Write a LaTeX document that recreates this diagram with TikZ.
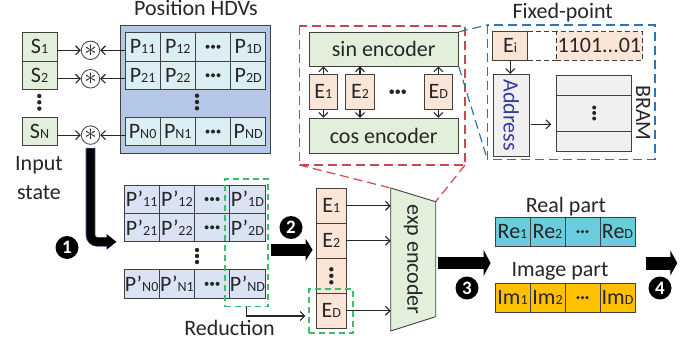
\documentclass[tikz,border=0pt]{standalone}
\usepackage{fontspec}
\setmainfont{Carlito}
\usetikzlibrary{arrows.meta,calc}
\definecolor{txt}{HTML}{262626}
\definecolor{bline}{HTML}{404040}
\definecolor{sgreen}{HTML}{E2EFDA}
\definecolor{hdvout}{HTML}{B4C7E7}
\definecolor{hdvcell}{HTML}{DAEEF3}
\definecolor{pprime}{HTML}{DAE3F3}
\definecolor{peach}{HTML}{FBE5D6}
\definecolor{recyan}{HTML}{6BCCDD}
\definecolor{imgold}{HTML}{FFC000}
\definecolor{rdash}{HTML}{D0444E}
\definecolor{bdash}{HTML}{2E75B6}
\definecolor{gdash}{HTML}{3CBF6A}
\definecolor{addrc}{HTML}{3A3A9A}
\definecolor{bramfill}{HTML}{F0F0F0}
\definecolor{arrblue}{HTML}{2F4A78}
\newcommand\sbx[1]{{\fontsize{14}{14}\selectfont #1}}
\newcommand\hdts[3]{\foreach \k in {-1,0,1}{\fill[txt] ([xshift=\k*#2]#1) circle[radius=#3];}}
\newcommand\vdts[3]{\foreach \k in {-1,0,1}{\fill[txt] ([yshift=\k*#2]#1) circle[radius=#3];}}
\begin{document}
\begin{tikzpicture}[x=1pt,y=-1pt,
  font=\fontsize{22}{24}\selectfont, text=txt,
  box/.style={draw=bline,line width=0.9pt,inner sep=0pt,text=txt},
  pcell/.style={box,fill=hdvcell,minimum width=35.2pt,minimum height=28.5pt},
  ppcell/.style={box,fill=pprime,minimum width=35.25pt,minimum height=28.2pt},
  scell/.style={box,fill=sgreen,minimum width=35pt,minimum height=28.5pt},
  ecell/.style={box,fill=peach,minimum width=29.3pt,minimum height=35pt},
  etop/.style={box,fill=peach,minimum width=28.7pt,minimum height=35pt},
  enc/.style={box,fill=sgreen,minimum width=149.3pt},
  recell/.style={box,fill=recyan,minimum width=35pt,minimum height=28.7pt},
  imcell/.style={box,fill=imgold,minimum width=35pt,minimum height=28.7pt},
  mult/.style={circle,draw=bline,line width=0.8pt,fill=white,minimum size=18.5pt,inner sep=0pt},
  num/.style={circle,fill=black,text=white,minimum size=23pt,inner sep=0pt,font=\fontsize{19}{19}\selectfont\bfseries},
  arr/.style={draw=txt,line width=1.1pt,-{Straight Barb[length=4.5pt,width=9pt,line width=1.1pt]}},
  big/.style={draw=black,line width=12pt,-{Triangle[length=8pt,width=24pt]}},
  rd/.style={draw=rdash,line width=1.2pt,dash pattern=on 9pt off 5pt},
  bd/.style={draw=bdash,line width=1.2pt,dash pattern=on 9pt off 5pt},
  gd/.style={draw=gdash,line width=1.3pt,dash pattern=on 6pt off 4pt},
  lbl/.style={anchor=base,inner sep=0pt}
]
\useasboundingbox (0,0) rectangle (699,348);

% ---------- input state ----------
\node[scell] (s1) at (39.5,46.75) {S\sbx{1}};
\node[scell] (s2) at (39.5,75.25) {S\sbx{2}};
\node[scell] (sn) at (39.5,131.55) {S\sbx{N}};
\coordinate (sdots) at (39.3,102.3);
\vdts{sdots}{6.3pt}{2.2pt}
\node[lbl] (inp) at (39,170.7) {Input};
\node[lbl] (sta) at (39,199.3) {state};

% ---------- position HDVs ----------
\node[lbl] (poshdv) at (196,15.7) {Position HDVs};
\node[draw=bline,line width=1pt,fill=hdvout,minimum width=150.5pt,minimum height=128.3pt,inner sep=0pt] (hdv) at (195.25,89.15) {};
\node[pcell] (p11) at (142.6,46.75) {P\sbx{11}};
\node[pcell] (p12) at (177.8,46.75) {P\sbx{12}};
\node[pcell] (p13) at (213,46.75) {};
\node[pcell] (p14) at (248.2,46.75) {P\sbx{1D}};
\node[pcell] (p21) at (142.6,75.25) {P\sbx{21}};
\node[pcell] (p22) at (177.8,75.25) {P\sbx{22}};
\node[pcell] (p23) at (213,75.25) {};
\node[pcell] (p24) at (248.2,75.25) {P\sbx{2D}};
\node[pcell] (pn1) at (142.6,131.55) {P\sbx{N0}};
\node[pcell] (pn2) at (177.8,131.55) {P\sbx{N1}};
\node[pcell] (pn3) at (213,131.55) {};
\node[pcell] (pn4) at (248.2,131.55) {P\sbx{ND}};
\hdts{p13}{5.5pt}{2pt}
\hdts{p23}{5.5pt}{2pt}
\hdts{pn3}{5.5pt}{2pt}
\coordinate (pdots) at (197,102);
\vdts{pdots}{6.3pt}{2.2pt}

% ---------- multipliers ----------
\node[mult] (c1) at (90.5,50.3) {\fontsize{24}{24}\selectfont$\ast$};
\node[mult] (c2) at (90.5,78.8) {\fontsize{24}{24}\selectfont$\ast$};
\node[mult] (cn) at (90.5,135.1) {\fontsize{24}{24}\selectfont$\ast$};
\draw[arr] (s1.east |- c1) -- (c1.west);
\draw[arr] (s2.east |- c2) -- (c2.west);
\draw[arr] (sn.east |- cn) -- (cn.west);
\draw[arr] (p11.west |- c1) -- (c1.east);
\draw[arr] (p21.west |- c2) -- (c2.east);
\draw[arr] (pn1.west |- cn) -- (cn.east);

% ---------- P' grid ----------
\node[ppcell] (q11) at (141.6,199.1) {P’\sbx{11}};
\node[ppcell] (q12) at (176.9,199.1) {P’\sbx{12}};
\node[ppcell] (q13) at (212.1,199.1) {};
\node[ppcell] (q14) at (247.4,199.1) {P’\sbx{1D}};
\node[ppcell] (q21) at (141.6,227.3) {P’\sbx{21}};
\node[ppcell] (q22) at (176.9,227.3) {P’\sbx{22}};
\node[ppcell] (q23) at (212.1,227.3) {};
\node[ppcell] (q24) at (247.4,227.3) {P’\sbx{2D}};
\node[ppcell] (qn1) at (141.6,283.85) {P’\sbx{N0}};
\node[ppcell] (qn2) at (176.9,283.85) {P’\sbx{N1}};
\node[ppcell] (qn3) at (212.1,283.85) {};
\node[ppcell] (qn4) at (247.4,283.85) {P’\sbx{ND}};
\hdts{q13}{5.5pt}{2pt}
\hdts{q23}{5.5pt}{2pt}
\hdts{qn3}{5.5pt}{2pt}
\coordinate (qdots) at (197,256);
\vdts{qdots}{6pt}{2.2pt}
\node[gd,minimum width=43pt,minimum height=127.7pt,inner sep=0pt] (gred) at (246.5,242.85) {};
\node[lbl] (redu) at (229.5,335) {Reduction};

% arrow 1
\draw[draw=arrblue,line width=9.6pt,rounded corners=7pt] ([yshift=-3pt]cn.south) |- ([xshift=-14pt]q21.south west);
\draw[draw=black,line width=8pt,rounded corners=7pt,-{Triangle[length=10pt,width=15pt]}] ([yshift=-3.8pt]cn.south) |- ([xshift=-7pt]q21.south west);
\node[num] (n1) at (67,247.5) {1};

% ---------- E column ----------
\node[ecell] (e1) at (331.35,205.8) {E\sbx{1}};
\node[ecell] (e2) at (331.35,240.8) {E\sbx{2}};
\node[ecell] (e3) at (331.35,275.8) {};
\node[ecell] (ed) at (331.35,310.8) {E\sbx{D}};
\vdts{e3}{6.5pt}{2.2pt}
\node[gd,minimum width=44pt,minimum height=44pt,inner sep=0pt] (ged) at (331,311) {};
\draw[arr,shorten >=3pt] (gred.south) |- ([yshift=-5pt]ged.west);

% arrow 2
\coordinate (a2end) at ([xshift=-3.7pt,yshift=-9pt]e2.west);
\draw[big,line width=11.5pt,-{Triangle[length=7pt,width=22pt]}] ([xshift=2pt]gred.east |- a2end) -- (a2end);
\node[num] (n2) at (291,227.5) {2};

% ---------- exp encoder ----------
\coordinate (x1) at (390.7,188);
\coordinate (x2) at (435.7,201.7);
\coordinate (x3) at (435.7,316.7);
\coordinate (x4) at (390.7,331);
\draw[draw=bline,line width=0.9pt,fill=sgreen] (x1) -- (x2) -- (x3) -- (x4) -- cycle;
\node[rotate=-90,inner sep=0pt] (expenc) at (413.2,259.5) {exp encoder};
\draw[arr] (e1.east) -- (e1.east -| x1);
\draw[arr] (e2.east) -- (e2.east -| x1);
\draw[arr] (ed.east) -- (ed.east -| x1);

% ---------- sin / cos detail ----------
\draw[rd] (299.3,26) rectangle (465,165);
\draw[rd] (299.3,165) -- (x1);
\draw[rd] (465,165) -- (x2);
\node[enc,minimum height=33.7pt] (sin) at (383.65,49.15) {sin encoder};
\node[enc,minimum height=35pt] (cos) at (383.65,135.8) {cos encoder};
\node[etop] (t1) at (323.35,91.8) {E\sbx{1}};
\node[etop] (t2) at (360,91.8) {E\sbx{2}};
\node[etop] (td) at (438.35,91.8) {E\sbx{D}};
\coordinate (tdots) at (397.7,91.7);
\hdts{tdots}{6pt}{2.3pt}
\foreach \t in {t1,t2,td}{
  \draw[arr] (\t.north) -- (\t.north |- sin.south);
  \draw[arr] (\t.south) -- (\t.south |- cos.north);
}

% ---------- fixed point detail ----------
\draw[bd] (487.3,25) rectangle (655,159.3);
\draw[bd] (sin.north east) -- (487.3,25);
\draw[bd] (sin.south east) -- (487.3,159.3);
\node[lbl] (fixp) at (562.7,18.3) {Fixed-point};
\node[box,fill=peach,minimum width=35pt,minimum height=28.3pt] (ei) at (510.2,45.85) {E\sbx{i}};
\node[draw=bline,line width=0.9pt,dash pattern=on 5pt off 3pt,fill=white,minimum width=28.3pt,minimum height=28.3pt,inner sep=0pt] (emp) at (541.85,45.85) {};
\node[draw=bline,line width=0.9pt,dash pattern=on 5pt off 3pt,fill=peach,minimum width=86.7pt,minimum height=28.3pt,inner sep=0pt] (bits) at (599.35,45.85) {1101...01};
\node[box,fill=bramfill,minimum width=35.7pt,minimum height=81.7pt] (addr) at (511.15,115.15) {};
\node[rotate=-90,inner sep=0pt,text=addrc] (addrt) at (addr) {Address};
\draw[arr] (ei.south) -- (ei.south |- addr.north);
\node[box,fill=bramfill,minimum width=75pt,minimum height=76pt] (bram) at (594.2,113) {};
\draw[draw=bline,line width=0.9pt] (bram.west |- 0,95.7) -- (bram.east |- 0,95.7);
\draw[draw=bline,line width=0.9pt] (bram.west |- 0,131.7) -- (bram.east |- 0,131.7);
\vdts{bram}{5.5pt}{2pt}
\node[rotate=-90,inner sep=0pt] (bramt) at (643.3,113) {BRAM};
\draw[arr,shorten >=5pt,shorten <=1.5pt] ([yshift=-9.15pt]addr.east) -- ([yshift=-9.15pt]addr.east -| bram.west);

% ---------- output ----------
\coordinate (expR) at (435.7,263);
\node[lbl] (realt) at (566,212.7) {Real part};
\node[recell] (r1) at (512.5,231.65) {Re\sbx{1}};
\node[recell] (r2) at (547.5,231.65) {Re\sbx{2}};
\node[recell] (r3) at (582.5,231.65) {};
\node[recell] (r4) at (617.5,231.65) {Re\sbx{D}};
\hdts{r3}{4.5pt}{1.7pt}
\node[lbl] (imt) at (560,276) {Image part};
\node[imcell] (i1) at (512.5,297.65) {Im\sbx{1}};
\node[imcell] (i2) at (547.5,297.65) {Im\sbx{2}};
\node[imcell] (i3) at (582.5,297.65) {};
\node[imcell] (i4) at (617.5,297.65) {Im\sbx{D}};
\hdts{i3}{4.5pt}{1.7pt}
\draw[big,line width=12.5pt,-{Triangle[length=7pt,width=26pt]}] ([xshift=2.3pt]expR) -- ([xshift=-4pt]r1.west |- expR);
\coordinate (outp) at (677.3,263);
\draw[big,line width=13pt,-{Triangle[length=7pt,width=25pt]}] ([xshift=10.7pt]r4.east |- outp) -- (outp);
\node[num] (n3) at (467,288) {3};
\node[num] (n4) at (660,288) {4};
\end{tikzpicture}
\end{document}
